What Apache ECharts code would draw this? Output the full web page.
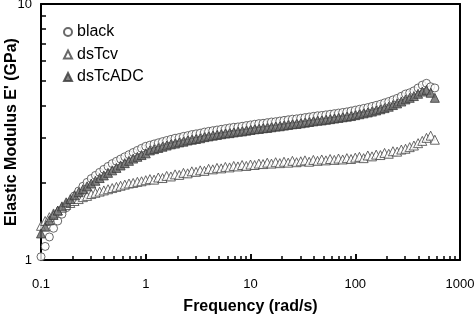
<!DOCTYPE html>
<html>
<head>
<meta charset="utf-8">
<script src="https://cdn.jsdelivr.net/npm/echarts@6/dist/echarts.min.js"></script>
<style>
  html, body { margin: 0; padding: 0; background: #fff; }
  #chart { width: 475px; height: 319px; }
</style>
</head>
<body>
<div id="chart"></div>
<script>
// frequency (rad/s)
const freq = [
  0.1, 0.1096, 0.1202, 0.1318, 0.1445, 0.1585, 0.1738, 0.1905, 0.2089, 0.2291, 0.2512, 0.2754, 0.302, 0.3311, 0.3631, 0.3981, 0.4365, 0.4786, 0.5248, 0.5754, 0.631, 0.6918, 0.7586, 0.8318, 0.912,
  1, 1.096, 1.202, 1.318, 1.445, 1.585, 1.738, 1.905, 2.089, 2.291, 2.512, 2.754, 3.02, 3.311, 3.631, 3.981, 4.365, 4.786, 5.248, 5.754, 6.31, 6.918, 7.586, 8.318, 9.12,
  10, 10.96, 12.02, 13.18, 14.45, 15.85, 17.38, 19.05, 20.89, 22.91, 25.12, 27.54, 30.2, 33.11, 36.31, 39.81, 43.65, 47.86, 52.48, 57.54, 63.1, 69.18, 75.86, 83.18, 91.2,
  100, 109.6, 120.2, 131.8, 144.5, 158.5, 173.8, 190.5, 208.9, 229.1, 251.2, 275.4, 302, 331.1, 363.1, 398.1, 436.5, 478.6, 524.8, 575.4
];

// E' (GPa)
const black = [
  1.03, 1.13, 1.23, 1.33, 1.42, 1.51, 1.60, 1.68, 1.78, 1.86, 1.94, 2.01, 2.08, 2.14, 2.20, 2.26, 2.32, 2.38, 2.43, 2.48, 2.53, 2.58, 2.63, 2.68, 2.73,
  2.78, 2.81, 2.84, 2.87, 2.90, 2.93, 2.96, 2.99, 3.01, 3.04, 3.06, 3.09, 3.11, 3.13, 3.16, 3.18, 3.20, 3.22, 3.24, 3.26, 3.28, 3.30, 3.31, 3.33, 3.35,
  3.37, 3.39, 3.41, 3.42, 3.44, 3.46, 3.47, 3.49, 3.51, 3.53, 3.55, 3.56, 3.58, 3.60, 3.62, 3.64, 3.66, 3.67, 3.69, 3.71, 3.73, 3.75, 3.77, 3.79, 3.82,
  3.85, 3.88, 3.91, 3.94, 3.98, 4.02, 4.06, 4.11, 4.16, 4.22, 4.28, 4.36, 4.45, 4.50, 4.58, 4.70, 4.82, 4.90, 4.75, 4.70
];

const dsTcv = [
  1.36, 1.42, 1.47, 1.52, 1.56, 1.60, 1.64, 1.67, 1.70, 1.73, 1.76, 1.78, 1.81, 1.83, 1.85, 1.87, 1.89, 1.91, 1.93, 1.95, 1.97, 1.99, 2.00, 2.02, 2.03,
  2.05, 2.07, 2.06, 2.10, 2.09, 2.13, 2.12, 2.16, 2.15, 2.19, 2.18, 2.22, 2.21, 2.24, 2.23, 2.27, 2.26, 2.29, 2.28, 2.31, 2.30, 2.33, 2.32, 2.35, 2.33,
  2.36, 2.35, 2.38, 2.37, 2.40, 2.38, 2.41, 2.39, 2.42, 2.40, 2.44, 2.41, 2.43, 2.45, 2.42, 2.46, 2.44, 2.47, 2.45, 2.48, 2.46, 2.49, 2.47, 2.50, 2.48,
  2.51, 2.53, 2.50, 2.56, 2.54, 2.58, 2.57, 2.62, 2.60, 2.66, 2.65, 2.70, 2.72, 2.76, 2.80, 2.86, 2.92, 3.00, 3.06, 2.95
];

const dsTcADC = [
  1.27, 1.35, 1.43, 1.50, 1.56, 1.62, 1.68, 1.73, 1.79, 1.84, 1.89, 1.94, 1.99, 2.04, 2.09, 2.14, 2.19, 2.24, 2.29, 2.34, 2.39, 2.44, 2.49, 2.53, 2.57,
  2.61, 2.68, 2.71, 2.74, 2.77, 2.80, 2.83, 2.85, 2.88, 2.90, 2.93, 2.95, 2.97, 2.99, 3.02, 3.04, 3.06, 3.08, 3.10, 3.12, 3.13, 3.15, 3.17, 3.18, 3.20,
  3.22, 3.24, 3.25, 3.27, 3.28, 3.30, 3.32, 3.33, 3.35, 3.37, 3.39, 3.40, 3.42, 3.44, 3.46, 3.48, 3.50, 3.51, 3.53, 3.55, 3.57, 3.59, 3.61, 3.63, 3.65,
  3.68, 3.71, 3.74, 3.77, 3.80, 3.84, 3.88, 3.92, 3.97, 4.03, 4.09, 4.16, 4.24, 4.30, 4.37, 4.46, 4.55, 4.62, 4.50, 4.30
];

// tick values
const xMajorTicks = [1, 10, 100];
const xMinorTicks = [0.2, 0.3, 0.4, 0.5, 0.6, 0.7, 0.8, 0.9, 2, 3, 4, 5, 6, 7, 8, 9, 20, 30, 40, 50, 60, 70, 80, 90, 200, 300, 400, 500, 600, 700, 800, 900];
const yMinorTicks = [2, 3, 4, 5, 6, 7, 8, 9];

const pairs = (ys) => freq.map((f, i) => [f, ys[i]]);

const chart = echarts.init(document.getElementById("chart"));
const font = "Liberation Sans, Arial, sans-serif";

// inward tick marks drawn as short mark lines in data space (log axes)
const tickLines = [].concat(
  xMajorTicks.map((v) => [{ coord: [v, 1] }, { coord: [v, 1.056] }]),
  xMinorTicks.map((v) => [{ coord: [v, 1] }, { coord: [v, 1.037] }]),
  yMinorTicks.map((v) => [{ coord: [0.1, v] }, { coord: [0.1116, v] }])
);

// plain border axes for the top and right side of the frame
const frameAxis = (min, max, pos) => ({
  type: "log", logBase: 10, min: min, max: max, position: pos,
  axisLine: { show: true, onZero: false, lineStyle: { color: "#000", width: 2 } },
  axisTick: { show: false },
  axisLabel: { show: false },
  splitLine: { show: false }
});

const option = {
  animation: false,
  backgroundColor: "#fff",
  grid: {
    left: 41, right: 15, top: 4, bottom: 59,
    outerBoundsMode: "none", containLabel: false
  },
  legend: {
    orient: "vertical",
    left: 58, top: 19,
    itemWidth: 8, itemHeight: 8, itemGap: 6.5,
    textStyle: { fontFamily: font, fontSize: 16, color: "#000", lineHeight: 16 },
    data: ["black", "dsTcv", "dsTcADC"]
  },
  xAxis: [
    {
      type: "log", logBase: 10, min: 0.1, max: 1000, position: "bottom",
      name: "Frequency (rad/s)", nameLocation: "middle", nameGap: 39, nameMoveOverlap: false,
      nameTextStyle: { fontFamily: font, fontSize: 16, fontWeight: "bold", color: "#000" },
      axisLine: { onZero: false, lineStyle: { color: "#000", width: 2 } },
      axisTick: { show: true, inside: true, length: 6, lineStyle: { color: "#000", width: 1.5 } },
      axisLabel: { fontFamily: font, fontSize: 13, color: "#000", margin: 18,
        formatter: (v) => String(v) },
      splitLine: { show: false }
    },
    frameAxis(0.1, 1000, "top")
  ],
  yAxis: [
    {
      type: "log", logBase: 10, min: 1, max: 10, position: "left",
      name: "Elastic Modulus E' (GPa)", nameLocation: "middle", nameGap: 21, nameMoveOverlap: false,
      nameTextStyle: { fontFamily: font, fontSize: 16, fontWeight: "bold", color: "#000" },
      axisLine: { onZero: false, lineStyle: { color: "#000", width: 2 } },
      axisTick: { show: true, inside: true, length: 6, lineStyle: { color: "#000", width: 1.5 } },
      axisLabel: { fontFamily: font, fontSize: 13, color: "#000", margin: 9 },
      splitLine: { show: false }
    },
    frameAxis(1, 10, "right")
  ],
  series: [
    {
      name: "black", type: "scatter", data: pairs(black),
      symbol: "circle", symbolSize: 8,
      itemStyle: { color: "#fff", borderColor: "#444", borderWidth: 1 },
      markLine: {
        silent: true, symbol: "none", animation: false,
        label: { show: false },
        lineStyle: { color: "#000", width: 1.5, type: "solid" },
        emphasis: { disabled: true },
        data: tickLines
      }
    },
    {
      name: "dsTcv", type: "scatter", data: pairs(dsTcv),
      symbol: "triangle", symbolSize: 9,
      itemStyle: { color: "#fff", borderColor: "#444", borderWidth: 1 }
    },
    {
      name: "dsTcADC", type: "scatter", data: pairs(dsTcADC),
      symbol: "triangle", symbolSize: 9,
      itemStyle: { color: "#666", borderColor: "#3a3a3a", borderWidth: 1 }
    }
  ]
};

chart.setOption(option);
</script>
</body>
</html>
